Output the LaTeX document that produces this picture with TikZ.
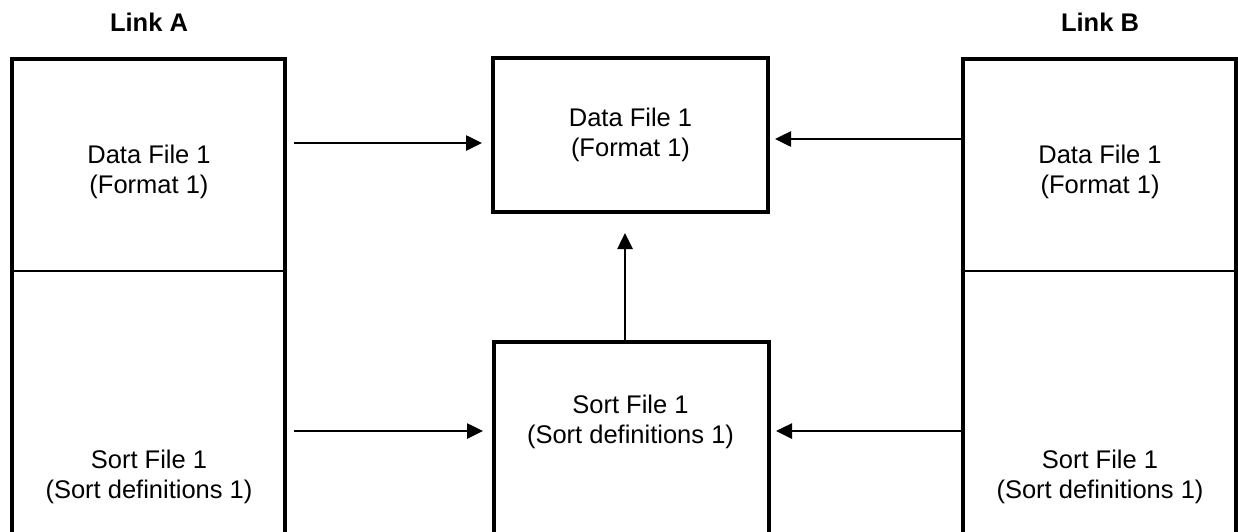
\documentclass[tikz,border=0pt]{standalone}
\usepackage{fontspec}
\setmainfont{Liberation Sans}
\usetikzlibrary{arrows.meta}

\begin{document}
\begin{tikzpicture}[x=1pt,y=-1pt,
    file/.style={draw,line width=3.5pt,inner sep=0pt,outer sep=0pt,anchor=north west},
    txt/.style={align=center,font=\fontsize{25.5}{30}\selectfont},
    title/.style={font=\fontsize{25.5}{30}\selectfont\bfseries},
    flow/.style={line width=2.6pt,-{Triangle[length=16pt,width=15pt]}},
    divider/.style={line width=1.5pt}]
  \useasboundingbox (0,0) rectangle (1238,531);
  \clip (0,0) rectangle (1238,531);
  % outer link boxes
  \node[file,minimum width=273pt,minimum height=520pt] (linkA) at (12,59) {};
  \node[file,minimum width=273pt,minimum height=520pt] (linkB) at (963,59) {};
  \node[title] (titleA) at (149,22) {Link A};
  \node[title] (titleB) at (1100,22) {Link B};
  \coordinate (cut) at (0,271);
  \draw[divider] (linkA.west |- cut) -- (linkA.east |- cut);
  \draw[divider] (linkB.west |- cut) -- (linkB.east |- cut);
  \node[txt] (dataA) at (149,172) {Data File 1\\(Format 1)};
  \node[txt] (sortA) at (149,477) {Sort File 1\\(Sort definitions 1)};
  \node[txt] (dataB) at (1100,172) {Data File 1\\(Format 1)};
  \node[txt] (sortB) at (1100,477) {Sort File 1\\(Sort definitions 1)};
  % merged files
  \node[file,minimum width=275pt,minimum height=154pt] (dataM) at (493,58) {};
  \node[txt] at (dataM.center) {Data File 1\\(Format 1)};
  \node[file,minimum width=275pt,minimum height=230pt] (sortM) at (494,342) {};
  \node[txt] at (630.5,422) {Sort File 1\\(Sort definitions 1)};
  % arrows
  \coordinate (rowA) at (0,143);
  \coordinate (rowB) at (0,139);
  \coordinate (rowS) at (0,431);
  \draw[flow,shorten <=9pt,shorten >=11pt] (linkA.east |- rowA) -- (dataM.west |- rowA);
  \draw[flow,shorten >=7pt] (linkB.west |- rowB) -- (dataM.east |- rowB);
  \draw[flow,shorten <=9pt,shorten >=11pt] (linkA.east |- rowS) -- (sortM.west |- rowS);
  \draw[flow,shorten >=7pt] (linkB.west |- rowS) -- (sortM.east |- rowS);
  \draw[flow,shorten >=21pt] (sortM.north -| 625,0) -- (dataM.south -| 625,0);
\end{tikzpicture}
\end{document}
